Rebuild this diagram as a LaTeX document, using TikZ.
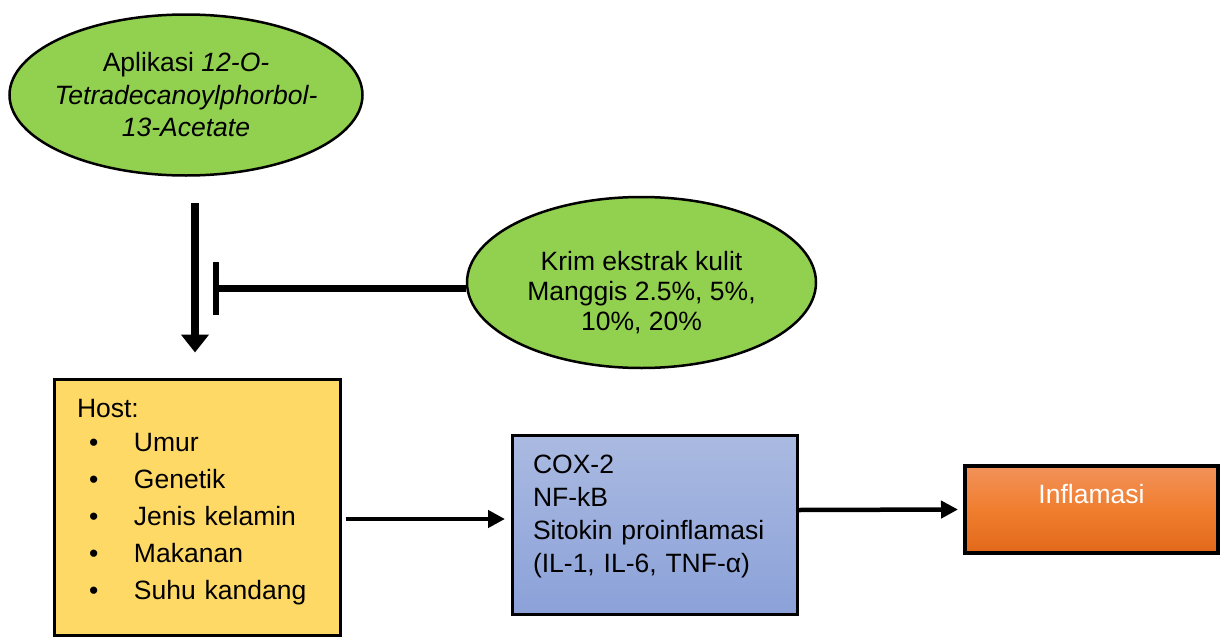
\documentclass[tikz,border=0pt]{standalone}
\usepackage{fontspec}
\setmainfont{Liberation Sans}
\usepackage{tikz}
\usetikzlibrary{arrows.meta, shapes.geometric, calc}
\definecolor{colorHerb}{RGB}{146,208,80}
\definecolor{colorHost}{RGB}{255,217,102}
\definecolor{colorPathTop}{RGB}{170,186,225}
\definecolor{colorPathBottom}{RGB}{139,161,216}
\definecolor{colorInflTop}{RGB}{242,146,90}
\definecolor{colorInflMid}{RGB}{240,126,46}
\definecolor{colorInflBottom}{RGB}{226,104,26}
\tikzset{
  herb/.style={ellipse, draw, line width=2.5pt, fill=colorHerb, inner sep=0pt, align=center},
  factor/.style={rectangle, draw, line width=3pt, inner sep=0pt},
  flow/.style={-{Triangle[width=17pt,length=17pt]}, line width=4.5pt},
}

\begin{document}
\begin{tikzpicture}[x=1pt, y=-1pt]
\useasboundingbox (0,0) rectangle (1226,637);
\node[herb, minimum width=353pt, minimum height=161pt, inner xsep=-15pt, font=\fontsize{26.5}{32.5}\selectfont] (tpa) at (186,95) {Aplikasi \textit{12-O-}\\\textit{Tetradecanoylphorbol-}\\\textit{13-Acetate}};
\node[herb, minimum width=349pt, minimum height=171pt, font=\fontsize{26.5}{30}\selectfont, text height=95pt, text depth=0pt] (krim) at (641.5,282.5) {Krim ekstrak kulit\\Manggis 2.5\%, 5\%,\\10\%, 20\%};
\node[factor, fill=colorHost, minimum width=286pt, minimum height=256pt, text width=240pt, inner xsep=23pt, align=left, font=\fontsize{26.5}{37}\selectfont, text height=19pt, text depth=199pt] (host) at (197,507) {Host:\\[-3pt]
\hspace*{12pt}\makebox[45pt][l]{\textbullet}Umur\\
\hspace*{12pt}\makebox[45pt][l]{\textbullet}Genetik\\
\hspace*{12pt}\makebox[45pt][l]{\textbullet}Jenis kelamin\\
\hspace*{12pt}\makebox[45pt][l]{\textbullet}Makanan\\
\hspace*{12pt}\makebox[45pt][l]{\textbullet}Suhu kandang};
\node[factor, top color=colorPathTop, bottom color=colorPathBottom, minimum width=285pt, minimum height=179pt, text width=243pt, inner xsep=21pt, align=left, font=\fontsize{26.5}{33}\selectfont, text height=19pt, text depth=122pt] (nfkb) at (654.5,524.5) {COX-2\\NF-kB\\Sitokin proinflamasi\\(IL-1, IL-6, TNF-α)};
\node[factor, top color=colorInflTop, bottom color=colorInflBottom, middle color=colorInflMid, line width=4pt, minimum width=253pt, minimum height=87pt, text=white, font=\fontsize{26.5}{30}\selectfont, text height=19pt, text depth=32pt] (infl) at (1091.5,509.5) {Inflamasi};

\coordinate (tpaFoot) at (195,203);
\coordinate (blockEnd) at (213,288);
\draw[line width=8.5pt, -{Triangle[width=27pt,length=18pt]}] (tpaFoot) -- ($(host.north)+(-2,-25)$);
\draw[line width=7pt, -{Bar[width=53pt,line width=6pt]}] (krim.west |- blockEnd) -- (blockEnd);
\draw[flow] ([xshift=4pt,yshift=-12pt]host.east) -- ([xshift=-5.5pt,yshift=5.5pt]nfkb.west);
\draw[flow] ([yshift=14.5pt]nfkb.east) -- ([xshift=-5pt]infl.west);
\end{tikzpicture}
\end{document}
